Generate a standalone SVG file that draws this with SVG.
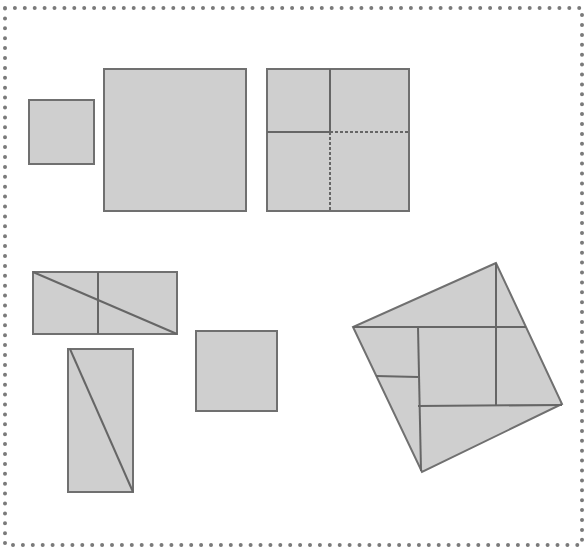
<svg xmlns="http://www.w3.org/2000/svg" width="587" height="551" viewBox="0 0 587 551">
<style>
.s{fill:#cfcfcf;stroke:#707070;stroke-width:2}
.l{fill:none;stroke:#666;stroke-width:2}
.d{fill:none;stroke:#666;stroke-width:2;stroke-dasharray:3 2}
.b{fill:none;stroke:#7a7a7a;stroke-width:4;stroke-linecap:round;stroke-dasharray:0 9.9}
</style>
<rect width="587" height="551" fill="#fff"/>
<g id="border"><rect class="b" x="5" y="8" width="577" height="537"/></g>
<g id="small-square"><rect class="s" x="29" y="100" width="65" height="64"/></g>
<g id="big-square"><rect class="s" x="104" y="69" width="142" height="142"/></g>
<g id="cross-square"><rect class="s" x="267" y="69" width="142" height="142"/>
<line class="l" x1="267" y1="132" x2="330" y2="132"/><line class="l" x1="330" y1="69" x2="330" y2="132"/>
<line class="d" x1="330" y1="132" x2="409" y2="132"/><line class="d" x1="330" y1="132" x2="330" y2="211"/></g>
<g id="rect-diagonal"><rect class="s" x="33" y="272" width="144" height="62"/>
<line class="l" x1="98" y1="272" x2="98" y2="334"/><line class="l" x1="33" y1="272" x2="177" y2="334"/></g>
<g id="tall-rect"><rect class="s" x="68" y="349" width="65" height="143"/>
<line class="l" x1="70" y1="349" x2="133" y2="492"/></g>
<g id="mid-square"><rect class="s" x="196" y="331" width="81" height="80"/></g>
<g id="tilted-square"><polygon class="s" points="496,263 353,327 422,472 562,404"/>
<line class="l" x1="353" y1="327" x2="526" y2="327"/>
<line class="l" x1="496" y1="263" x2="496" y2="406"/>
<line class="l" x1="562" y1="405" x2="418" y2="406"/>
<line class="l" x1="418" y1="327" x2="421" y2="471"/>
<line class="l" x1="376" y1="376" x2="418" y2="377"/></g>
</svg>
